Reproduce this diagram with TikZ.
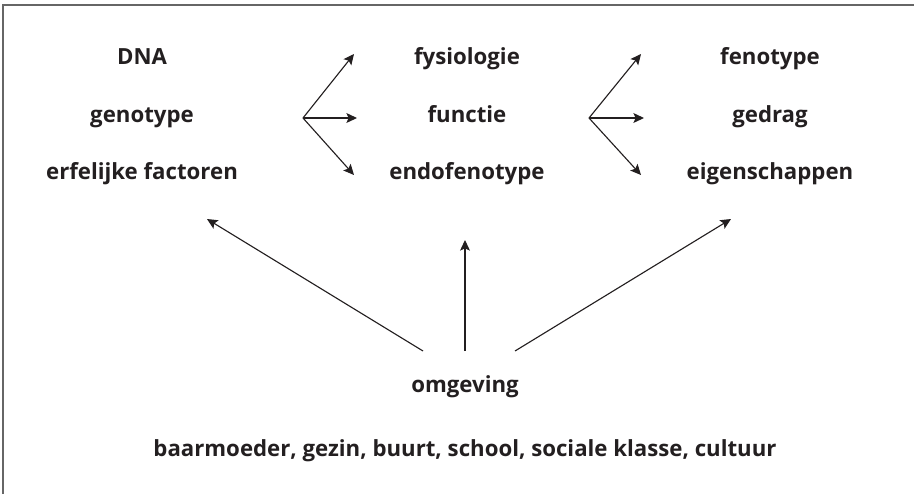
\documentclass[tikz,border=0pt]{standalone}
\usepackage{fontspec}
\setmainfont{Open Sans}
\usepackage{xcolor}
\usetikzlibrary{arrows.meta,positioning}

\definecolor{inkt}{HTML}{231F20}
\tikzset{
  woord/.style={font=\bfseries\fontsize{15.8}{18}\selectfont, text=inkt, anchor=base, inner sep=0pt},
  pijl/.style={-{Stealth[length=7.5pt,width=7pt,inset=1.5pt]}, line width=0.8pt, draw=inkt},
}

\begin{document}
\begin{tikzpicture}[x=0.025cm,y=-0.025cm]
\useasboundingbox (0,0) rectangle (914,494);
\draw[black!60, line width=1.3pt] (3,494) -- (3,5) -- (914,5);

\node[woord] (dna) at (142,64){DNA};
\node[woord] (geno) at (142,122){genotype};
\node[woord] (erf) at (142,179){erfelijke factoren};

\node[woord] (fysio) at (467,64){fysiologie};
\node[woord] (functie) at (467,122){functie};
\node[woord] (endo) at (467,179){endofenotype};

\node[woord] (feno) at (770,64){fenotype};
\node[woord] (gedrag) at (770,122){gedrag};
\node[woord] (eigen) at (770,179){eigenschappen};

\node[woord] (omg) at (465,392){omgeving};
\node[woord] (baar) at (465,456){baarmoeder, gezin, buurt, school, sociale klasse, cultuur};

% vork links
\coordinate (v1) at (303,118);
\coordinate (v1a) at (354,54);
\coordinate (v1b) at (357,118);
\coordinate (v1c) at (354,175);
  \draw[pijl] (v1) to (v1a);
  \draw[pijl] (v1) to (v1b);
  \draw[pijl] (v1) to (v1c);

% vork rechts
\coordinate (v2) at (589,118);
\coordinate (v2a) at (641,54);
\coordinate (v2b) at (644,118);
\coordinate (v2c) at (641,175);
  \draw[pijl] (v2) to (v2a);
  \draw[pijl] (v2) to (v2b);
  \draw[pijl] (v2) to (v2c);

% omgeving
\coordinate (o1) at (423,351);
\coordinate (o2) at (465,351);
\coordinate (o3) at (515,351);
\coordinate (e1) at (207,219);
\coordinate (e2) at (465,240);
\coordinate (e3) at (731,219);
  \draw[pijl] (o1) to (e1);
  \draw[pijl] (o2) to (e2);
  \draw[pijl] (o3) to (e3);

\end{tikzpicture}
\end{document}
